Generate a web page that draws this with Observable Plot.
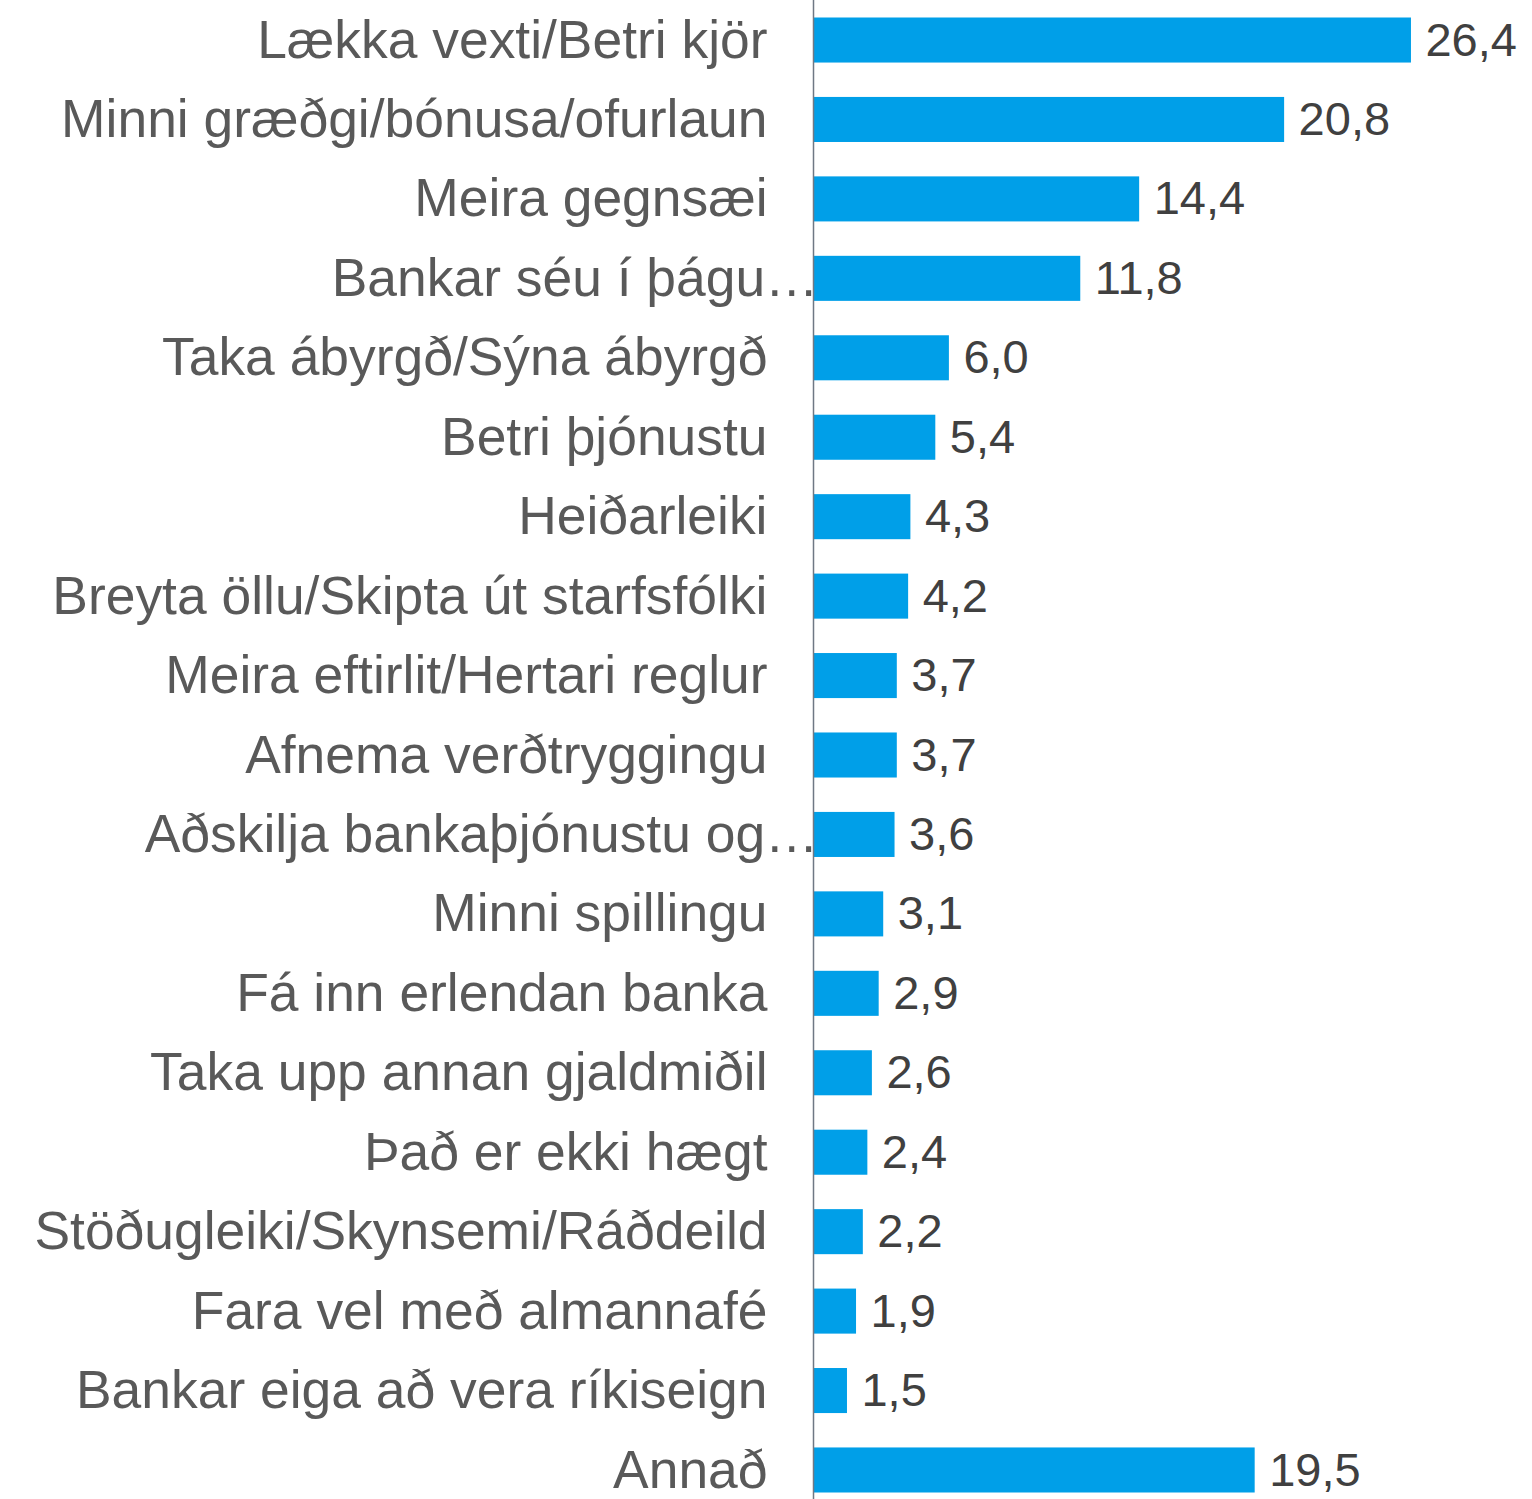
<!DOCTYPE html>
<html>
<head>
<meta charset="utf-8">
<script src="https://cdn.jsdelivr.net/npm/d3@7"></script>
<script src="https://cdn.jsdelivr.net/npm/@observablehq/plot@0.6"></script>
<style>
  html, body { margin: 0; padding: 0; background: #fff; }
  #chart svg { display: block; }
</style>
</head>
<body>
<div id="chart"></div>
<script>
const categories = [
  "Lækka vexti/Betri kjör",
  "Minni græðgi/bónusa/ofurlaun",
  "Meira gegnsæi",
  "Bankar séu í þágu…",
  "Taka ábyrgð/Sýna ábyrgð",
  "Betri þjónustu",
  "Heiðarleiki",
  "Breyta öllu/Skipta út starfsfólki",
  "Meira eftirlit/Hertari reglur",
  "Afnema verðtryggingu",
  "Aðskilja bankaþjónustu og…",
  "Minni spillingu",
  "Fá inn erlendan banka",
  "Taka upp annan gjaldmiðil",
  "Það er ekki hægt",
  "Stöðugleiki/Skynsemi/Ráðdeild",
  "Fara vel með almannafé",
  "Bankar eiga að vera ríkiseign",
  "Annað"
];
const values = [26.4, 20.8, 14.4, 11.8, 6.0, 5.4, 4.3, 4.2, 3.7, 3.7, 3.6, 3.1, 2.9, 2.6, 2.4, 2.2, 1.9, 1.5, 19.5];

const data = categories.map((c, i) => ({category: c, value: values[i]}));
const truncated = data.filter(d => d.category.endsWith("…"));
const full = data.filter(d => !d.category.endsWith("…"));
const fmt = v => v.toFixed(1).replace(".", ",");

const chart = Plot.plot({
  width: 1532,
  height: 1499,
  marginLeft: 813,
  marginRight: 39.5,
  marginTop: 17.5,
  marginBottom: 6.5,
  style: {fontFamily: "'Liberation Sans', Arial, sans-serif", background: "#fff"},
  x: {domain: [0, 30], axis: null},
  y: {domain: categories, paddingInner: 0.433, paddingOuter: 0, round: false, axis: null},
  marks: [
    Plot.barX(data, {x: "value", y: "category", fill: "#009FE8"}),
    Plot.text(truncated, {x: 0, y: "category", text: "category", textAnchor: "end", dx: 5, fontSize: 53.4, fill: "#595959"}),
    Plot.ruleX([0], {stroke: "#6f7884", strokeWidth: 1.5, insetTop: -18, insetBottom: -7}),
    Plot.text(full, {x: 0, y: "category", text: "category", textAnchor: "end", dx: -46, fontSize: 53.4, fill: "#595959"}),
    Plot.text(data, {x: "value", y: "category", text: d => fmt(d.value), textAnchor: "start", dx: 14, fontSize: 47, fill: "#404040"})
  ]
});
document.getElementById("chart").appendChild(chart);
</script>
</body>
</html>
